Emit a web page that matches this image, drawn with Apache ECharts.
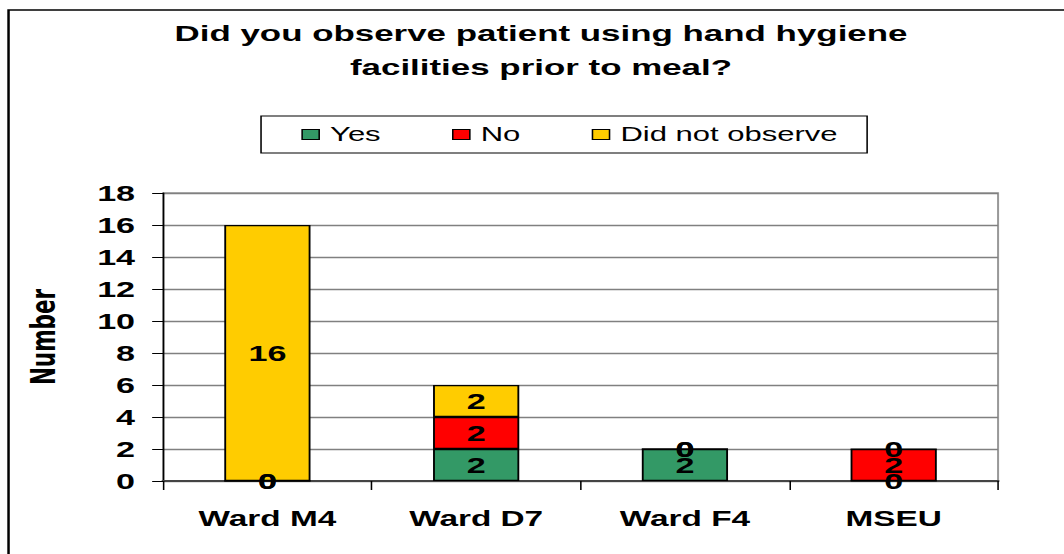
<!DOCTYPE html>
<html>
<head>
<meta charset="utf-8">
<script src="https://cdn.jsdelivr.net/npm/echarts@6/dist/echarts.min.js"></script>
<style>
  html, body { margin: 0; padding: 0; background: #fff; overflow: hidden; }
  #wrap { width: 1064px; height: 554px; overflow: hidden; }
  #chart { width: 686px; height: 554px; transform: scaleX(1.551); transform-origin: 0 0; }
</style>
</head>
<body>
<div id="wrap"><div id="chart"></div></div>
<script>
// ---- data ----
const categories = ['Ward M4', 'Ward D7', 'Ward F4', 'MSEU'];
const yesValues = [0, 2, 2, 0];
const noValues = [0, 2, 0, 2];
const didNotObserveValues = [16, 2, 0, 0];
const seriesNames = ['Yes', 'No', 'Did not observe'];
const seriesColors = ['#339966', '#FF0000', '#FFCC00'];
const yMin = 0, yMax = 18, yInterval = 2;
const titleText = 'Did you observe patient using hand hygiene\nfacilities prior to meal?';
const yAxisName = 'Number';

const FONT = 'Liberation Sans, Arial, sans-serif';

const chart = echarts.init(document.getElementById('chart'), null, { renderer: 'svg' });

const labelStyle = {
  show: true,
  position: 'inside',
  color: '#000',
  fontFamily: FONT,
  fontWeight: 'bold',
  fontSize: 22,
  textBorderWidth: 0
};

function makeSeries(name, data, color) {
  return {
    name: name,
    type: 'bar',
    stack: 'total',
    data: data,
    barWidth: '41.3%',
    itemStyle: { color: color, borderColor: '#000', borderWidth: 1.2 },
    label: labelStyle,
    emphasis: { disabled: true },
    animation: false
  };
}

chart.setOption({
  backgroundColor: '#fff',
  animation: false,
  textStyle: { fontFamily: FONT },
  legend: {
    data: seriesNames,
    left: 168.3,
    top: 116,
    orient: 'horizontal',
    icon: 'rect',
    itemWidth: 11,
    itemHeight: 10,
    itemGap: 46,
    padding: [8, 19, 8, 26],
    borderColor: '#000',
    borderWidth: 1,
    itemStyle: { borderColor: '#000', borderWidth: 1 },
    textStyle: { fontFamily: FONT, fontSize: 20, lineHeight: 21, color: '#000', padding: [0, 0, 0, 2] },
    selectedMode: false
  },
  grid: {
    left: 105.1,
    right: 42.5,
    top: 193,
    bottom: 73,
    show: true,
    borderColor: '#999',
    borderWidth: 1.3,
    backgroundColor: '#fff',
    outerBoundsMode: 'none'
  },
  xAxis: {
    type: 'category',
    data: categories,
    axisLine: { show: true, lineStyle: { color: '#444', width: 2 } },
    axisTick: { show: true, alignWithLabel: false, interval: 0, length: 9, lineStyle: { color: '#000', width: 1 } },
    axisLabel: { fontFamily: FONT, fontWeight: 'bold', fontSize: 21.5, color: '#000', margin: 27, interval: 0 },
    splitLine: { show: false }
  },
  yAxis: {
    type: 'value',
    min: yMin,
    max: yMax,
    interval: yInterval,
    name: yAxisName,
    nameLocation: 'middle',
    nameGap: 66,
    nameTextStyle: { fontFamily: 'DejaVu Sans, sans-serif', fontWeight: 'bold', fontSize: 21.5, color: '#000' },
    axisLine: { show: true, lineStyle: { color: '#000', width: 1 } },
    axisTick: { show: true, inside: false, length: 7, lineStyle: { color: '#000', width: 1 } },
    axisLabel: { fontFamily: FONT, fontWeight: 'bold', fontSize: 22, color: '#000', margin: 18 },
    splitLine: { show: true, lineStyle: { color: '#808080', width: 1.3 } }
  },
  graphic: [{
    type: 'rect',
    silent: true,
    z: -10,
    shape: { x: 5.5, y: 10, width: 1000, height: 1000 },
    style: { fill: 'none', stroke: '#000', lineWidth: 1.6 }
  }, {
    type: 'text',
    silent: true,
    x: 348.8,
    y: 50,
    style: {
      text: titleText,
      fill: '#000',
      fontFamily: FONT,
      fontWeight: 'bold',
      fontSize: 22.5,
      lineHeight: 34,
      align: 'center',
      verticalAlign: 'middle'
    }
  }],
  series: [
    makeSeries(seriesNames[0], yesValues, seriesColors[0]),
    makeSeries(seriesNames[1], noValues, seriesColors[1]),
    makeSeries(seriesNames[2], didNotObserveValues, seriesColors[2])
  ]
});
</script>
</body>
</html>
